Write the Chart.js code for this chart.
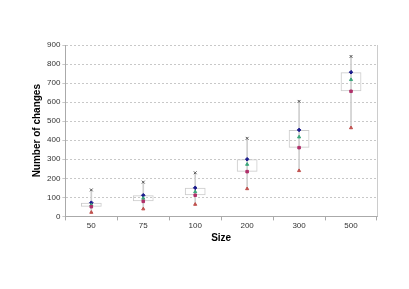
<!DOCTYPE html>
<html>
<head>
<meta charset="utf-8">
<script src="https://cdn.jsdelivr.net/npm/chart.js@4/dist/chart.umd.min.js"></script>
<style>
  html, body { margin: 0; padding: 0; background: #fff; }
  #wrap { width: 409px; height: 289px; }
</style>
</head>
<body>
<div id="wrap"><canvas id="box-chart" width="409" height="289"></canvas></div>
<script>
const sizes = ["50", "75", "100", "200", "300", "500"];
const minVals = [21, 39, 63, 145, 240, 465];
const q1Vals = [51, 79, 111, 235, 361, 657];
const medianVals = [60, 95, 129, 273, 417, 718];
const q3Vals = [72, 111, 150, 300, 454, 757];
const maxVals = [139, 180, 229, 410, 604, 840];

const boxes = sizes.map((s, i) => [q1Vals[i], q3Vals[i]]);
const whiskers = sizes.map((s, i) => [minVals[i], maxVals[i]]);

function marker(label, data, style, color, r) {
  return {
    type: 'line',
    label: label,
    data: data,
    showLine: false,
    pointStyle: style,
    pointRadius: r,
    pointBackgroundColor: color,
    pointBorderColor: color,
    pointBorderWidth: 1,
    order: 0
  };
}

const myCanva = document.querySelector('#box-chart');
const myChart = new Chart(myCanva, {
  type: 'bar',
  data: {
    labels: sizes,
    datasets: [
      {
        label: 'range',
        data: whiskers,
        grouped: false,
        barThickness: 1,
        backgroundColor: '#cfcfcf',
        borderWidth: 0,
        order: 3
      },
      {
        label: 'box',
        data: boxes,
        grouped: false,
        barPercentage: 0.4,
        categoryPercentage: 1,
        backgroundColor: 'rgba(255,255,255,0)',
        borderColor: '#cccccc',
        borderWidth: 1,
        borderSkipped: false,
        order: 2
      },
      marker('min', minVals, 'triangle', '#c0504d', 1.8),
      marker('q1', q1Vals, 'rect', '#b0306a', 1.8),
      marker('median', medianVals, 'triangle', '#3aa57a', 1.8),
      marker('q3', q3Vals, 'rectRot', '#1a1a8c', 1.8),
      marker('max', maxVals, 'crossRot', '#555555', 2)
    ]
  },
  options: {
    responsive: false,
    animation: false,
    layout: { padding: { left: 31, right: 32, top: 45, bottom: 45 } },
    plugins: { legend: { display: false }, tooltip: { enabled: false } },
    scales: {
      x: {
        offset: true,
        grid: { offset: true, drawOnChartArea: false, color: '#aaa', tickLength: 4 },
        border: { color: '#aaa' },
        ticks: { color: '#333', font: { family: 'Arial', size: 8 }, padding: 1 },
        title: { display: true, text: 'Size', color: '#000', font: { family: 'Arial', size: 10, weight: 'bold' }, padding: { top: 0, bottom: 0 } }
      },
      y: {
        min: 0,
        max: 900,
        ticks: { stepSize: 100, color: '#333', font: { family: 'Arial', size: 8 }, padding: 2 },
        grid: { color: '#c8c8c8', drawTicks: true, tickLength: 3 },
        border: { color: '#aaa', dash: [2, 2] },
        title: { display: true, text: 'Number of changes', color: '#000', font: { family: 'Arial', size: 10, weight: 'bold' }, padding: { top: 0, bottom: 2 } }
      }
    }
  },
  plugins: [{
    id: 'frame',
    beforeDatasetsDraw(chart) {
      const { ctx, chartArea } = chart;
      ctx.save();
      ctx.strokeStyle = '#ccc';
      ctx.beginPath();
      ctx.moveTo(chartArea.right + 0.5, chartArea.top);
      ctx.lineTo(chartArea.right + 0.5, chartArea.bottom);
      ctx.stroke();
      ctx.restore();
    }
  }]
});
</script>
</body>
</html>
